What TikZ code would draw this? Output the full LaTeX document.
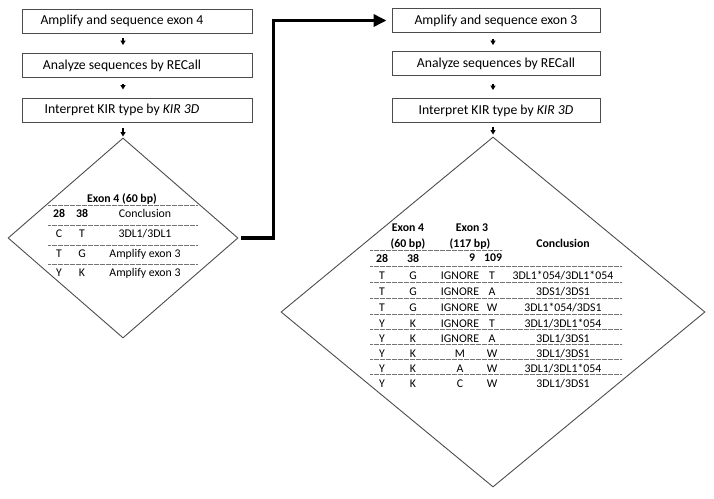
\documentclass[tikz,border=0pt]{standalone}
\usepackage{fontspec}
\setmainfont{Carlito}
\usetikzlibrary{arrows.meta,positioning,shapes.geometric}

\begin{document}
\begin{tikzpicture}[x=1pt,y=-1pt,
  stepbox/.style={draw=black!70,line width=0.9pt,minimum height=24pt,inner sep=0pt,font=\fontsize{13.7}{15}\selectfont},
  decide/.style={diamond,draw=black!70,line width=0.9pt,inner sep=0pt},
  stub/.style={-{Triangle[length=4.5pt,width=5pt]},line width=1.7pt},
  link/.style={-{Triangle[length=13pt,width=12pt]},line width=3.5pt},
  cell/.style={inner sep=0pt,font=\fontsize{11.8}{13}\selectfont},
  hcell/.style={inner sep=0pt,font=\fontsize{11.8}{13}\selectfont\bfseries},
  rule/.style={black!55,line width=0.6pt,dash pattern=on 0.6pt off 0.6pt}]
\useasboundingbox (0,0) rectangle (714,498);

\node[stepbox,minimum width=230pt] (a1) at (137,21) {\makebox[230pt]{\hspace{-30pt}Amplify and sequence exon 4}};
\node[stepbox,minimum width=230pt] (a2) at (137,65.5) {\makebox[230pt]{\hspace{-30pt}Analyze sequences by RECall}};
\node[stepbox,minimum width=230pt] (a3) at (137,110) {\makebox[230pt]{\hspace{-30pt}Interpret KIR type by \textit{KIR 3D}}};
\node[decide,minimum width=230pt,minimum height=200pt] (d1) at (123,238) {};

\node[stepbox,minimum width=208pt] (b1) at (496,20.5) {Amplify and sequence exon 3};
\node[stepbox,minimum width=208pt] (b2) at (496,63.5) {Analyze sequences by RECall};
\node[stepbox,minimum width=208pt] (b3) at (496,110.5) {Interpret KIR type by \textit{KIR 3D}};
\node[decide,minimum width=424pt,minimum height=350pt] (d2) at (493,312) {};

\draw[stub,shorten <=5pt,shorten >=8pt] (a1.south -| d1.north) -- (a2.north -| d1.north);
\draw[stub,shorten <=6pt,shorten >=8pt] (a2.south -| d1.north) -- (a3.north -| d1.north);
\draw[stub,shorten <=6pt,shorten >=1pt] (a3.south -| d1.north) -- (d1.north);
\draw[stub,shorten <=6pt,shorten >=6pt] (b1.south -| d2.north) -- (b2.north -| d2.north);
\draw[stub,shorten <=8pt,shorten >=8pt] (b2.south -| d2.north) -- (b3.north -| d2.north);
\draw[stub,shorten <=4pt,shorten >=2pt] (b3.south -| d2.north) -- (d2.north);

\draw[link,shorten <=3pt,shorten >=5pt] (d1.east) -- ++(35,0) |- (b1.west);

\node[hcell] (lt) at (122,199) {Exon 4 (60 bp)};
\draw[rule] (48,205) -- (197,205);
\node[hcell] (lh1) at (59,213) {28};
\node[hcell] (lh2) at (82,213) {38};
\node[cell] (lh3) at (145,213) {Conclusion};
\foreach \y/\p/\q/\c [count=\i] in {234/C/T/{3DL1/3DL1},254/T/G/{Amplify exon 3},273/Y/K/{Amplify exon 3}}{
  \draw[rule] (48,\y-8.5) -- (197,\y-8.5);
  \node[cell] (l\i p) at (59,\y) {\p};
  \node[cell] (l\i q) at (82,\y) {\q};
  \node[cell] (l\i c) at (145,\y) {\c};
}

\node[hcell] (rt1) at (408,228) {Exon 4};
\node[hcell] (rt2) at (408,244) {(60 bp)};
\node[hcell] (rt3) at (472,228) {Exon 3};
\node[hcell] (rt4) at (470,244) {(117 bp)};
\node[hcell] (rt5) at (563,243) {Conclusion};
\draw[rule] (370,250) -- (502,250);
\node[hcell] (rh1) at (382,258) {28};
\node[hcell] (rh2) at (413,258) {38};
\node[hcell] (rh3) at (472,258) {9};
\node[hcell] (rh4) at (493,258) {109};
\foreach \y/\p/\q/\s/\t/\c [count=\i] in {276/T/G/IGNORE/T/{3DL1*054/3DL1*054},292/T/G/IGNORE/A/{3DS1/3DS1},308/T/G/IGNORE/W/{3DL1*054/3DS1},324/Y/K/IGNORE/T/{3DL1/3DL1*054},339/Y/K/IGNORE/A/{3DL1/3DS1},354/Y/K/M/W/{3DL1/3DS1},369/Y/K/A/W/{3DL1/3DL1*054},384/Y/K/C/W/{3DL1/3DS1}}{
  \draw[rule] (370,\y-9.5) -- (622,\y-9.5);
  \node[cell] (r\i p) at (382,\y) {\p};
  \node[cell] (r\i q) at (413,\y) {\q};
  \node[cell] (r\i s) at (460,\y) {\s};
  \node[cell] (r\i t) at (492,\y) {\t};
  \node[cell] (r\i c) at (563,\y) {\c};
}
\end{tikzpicture}
\end{document}
